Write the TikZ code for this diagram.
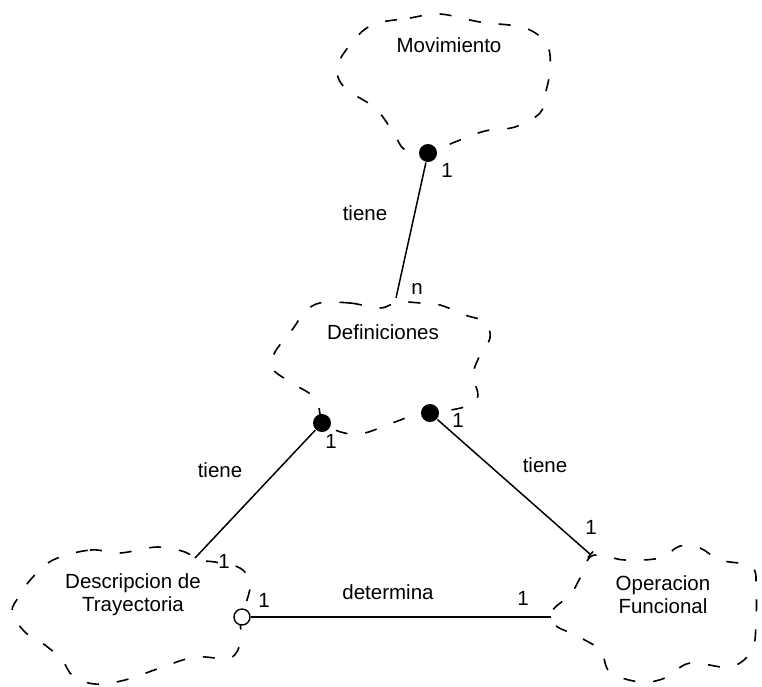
\documentclass[tikz,border=0pt]{standalone}
\usepackage{fontspec}
\setmainfont{Liberation Sans}
\usetikzlibrary{arrows.meta}

\begin{document}
\begin{tikzpicture}[x=1pt,y=-1pt,line width=1.5pt,
    font=\fontsize{20.5}{23}\selectfont,
    nube/.style={dash pattern=on 12pt off 18pt,line width=1.6pt},
    punto/.style={fill=black,circle,inner sep=0pt,minimum size=18pt},
    aro/.style={draw,fill=white,circle,inner sep=0pt,minimum size=16pt,line width=1.4pt}]

    \useasboundingbox (0,0) rectangle (762,686);

    % nubes
    \draw[nube] plot[smooth cycle,tension=.6] coordinates {(372,25) (410,18) (440,14) (480,22) (525,28) (547,45) (550,70) (545,95) (540,113) (515,127) (485,131) (455,142) (428,153) (405,150) (393,132) (375,108) (345,88) (337,68) (350,45)};
    \draw[nube] plot[smooth cycle,tension=.6] coordinates {(320,303) (350,303) (380,308) (398,302) (420,303) (440,305) (465,315) (485,322) (490,338) (480,355) (473,375) (478,395) (470,405) (445,411) (420,413) (395,422) (360,434) (335,430) (322,420) (315,398) (290,382) (272,368) (275,352) (292,330) (305,312)};
    \draw[nube] plot[smooth cycle,tension=.6] coordinates {(53,560) (90,550) (120,553) (157,547) (185,552) (197,560) (215,562) (240,568) (250,582) (247,600) (240,617) (241,640) (230,658) (195,657) (160,668) (125,680) (95,684) (73,676) (62,660) (45,645) (25,632) (12,612) (20,595) (32,578)};
    \draw[nube] plot[smooth cycle,tension=.6] coordinates {(590,557) (580,578) (570,595) (553,610) (555,625) (575,635) (600,650) (610,672) (640,682) (665,678) (690,663) (730,667) (752,650) (756,620) (756,590) (752,567) (720,560) (700,548) (680,546) (660,558) (625,560) (605,556)};

    \node (mov)  at (449,45)  {Movimiento};
    \node (defn) at (383,332) {Definiciones};
    \node[align=center] (desc) at (133,595) {Descripcion de\\Trayectoria};
    \node[align=center] (oper) at (663,595) {Operacion\\Funcional};

    \node[punto] (movdot)  at (428,153) {};
    \node[punto] (defldot) at (322,423) {};
    \node[punto] (defrdot) at (430,413) {};
    \node[aro]   (descirc) at (242,617) {};

    \coordinate (defntop) at (396,298);
    \coordinate (desctop) at (195,558);
    \coordinate (opertop) at (591,555);
    \coordinate (operleft) at (551,617);

    \draw (movdot) -- (defntop);
    \draw (defldot) -- (desctop);
    \draw[-{Bar[width=8pt]}] (defrdot) -- (opertop);
    \draw (descirc) -- (operleft);

    \node (tiene1) at (365,213) {tiene};
    \node (tiene2) at (220,470) {tiene};
    \node (tiene3) at (545,465) {tiene};
    \node (determ) at (388,592) {determina};

    \node (m1) at (447,170) {1};
    \node (m2) at (417,289) {n};
    \node (m3) at (331,441) {1};
    \node (m4) at (458,420) {1};
    \node (m5) at (224,561) {1};
    \node (m6) at (591,527) {1};
    \node (m7) at (264,600) {1};
    \node (m8) at (523,598) {1};

\end{tikzpicture}
\end{document}
